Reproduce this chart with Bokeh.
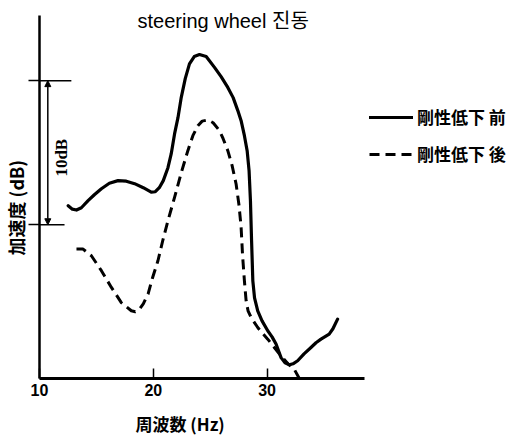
import math
from bokeh.plotting import figure
from bokeh.models import (Range1d, FixedTicker, Label, Legend, LegendItem,
                          Arrow, NormalHead, Title)
from bokeh.embed import file_html
from bokeh.resources import INLINE

# ---- data -------------------------------------------------------------
title_text = "steering wheel 진동"
x_label = "周波数 (Hz)"
y_label = "加速度 (dB)"
series_names = ["剛性低下 前", "剛性低下 後"]

x_ticks = [10, 20, 30]
x_axis_end = 38.6
y_axis_span = (-0.67, 24.51)

# before stiffness drop (solid)
before_hz = [12.52, 12.89, 13.25, 13.68, 14.27, 14.82, 15.44, 16.14, 16.90, 17.63,
             18.36, 19.12, 19.82, 20.18, 20.53, 20.88, 21.29, 21.58, 21.87, 22.17,
             22.46, 22.81, 23.18, 23.60, 24.06, 24.65, 25.38, 25.96, 26.55, 27.02,
             27.43, 27.72, 28.01, 28.25, 28.42, 28.54, 28.64, 28.75, 28.90, 29.18,
             29.56, 30.06, 30.44, 30.79, 31.23, 31.58, 31.96, 32.28, 32.69, 33.25,
             33.86, 34.30, 34.74, 35.46, 35.79, 36.20]
before_db = [11.32, 11.08, 11.02, 11.18, 11.67, 12.08, 12.50, 12.88, 13.06, 13.02,
             12.85, 12.57, 12.26, 12.29, 12.57, 13.06, 13.96, 14.93, 16.30, 17.43,
             18.84, 20.14, 21.16, 21.67, 21.81, 21.67, 20.92, 20.28, 19.53, 18.82,
             17.92, 17.22, 16.18, 15.14, 13.75, 11.67, 8.89, 6.11, 4.93, 4.03,
             3.33, 2.64, 2.22, 1.72, 0.78, 0.42, 0.28, 0.35, 0.56, 1.04,
             1.48, 1.81, 2.06, 2.41, 2.78, 3.45]

# after stiffness drop (dashed)
after_hz = [13.25, 13.83, 14.56, 15.44, 16.32, 17.19, 18.07, 18.42, 18.80, 19.12,
            19.54, 19.91, 20.41, 20.83, 21.29, 21.87, 22.46, 23.04, 23.48, 23.92,
            24.30, 24.80, 25.26, 25.82, 26.14, 26.55, 26.93, 27.28, 27.54, 27.72,
            27.85, 28.01, 28.16, 28.33, 28.60, 29.18, 29.56, 30.06, 30.64, 31.23,
            31.84, 32.37, 32.81]
after_db = [8.31, 8.31, 7.85, 6.81, 5.65, 4.60, 4.03, 3.96, 4.15, 4.51,
            5.19, 6.25, 7.50, 8.89, 10.28, 11.90, 13.61, 15.14, 16.18, 16.87,
            17.19, 17.27, 17.08, 16.53, 15.97, 15.14, 14.10, 12.83, 11.32, 9.81,
            7.85, 6.11, 4.72, 4.03, 3.56, 2.87, 2.50, 2.06, 1.48, 0.90,
            0.35, 0.00, -0.63]

# 10 dB scale bar
scale_db = [10, 20]
scale_bar_x = 10.73
scale_line_end = [12.2, 12.8]
scale_text = "10dB"

CJK = "Noto Sans CJK JP"

# ---- figure -----------------------------------------------------------
p = figure(width=518, height=448, output_backend="svg", toolbar_location=None,
           title_location=None,
           x_range=Range1d(10, 52.1), y_range=Range1d(-0.67, 25.56),
           min_border_left=38, min_border_right=0, min_border_top=0,
           min_border_bottom=70)
p.outline_line_color = None
p.xgrid.visible = False
p.ygrid.visible = False
p.background_fill_color = "white"
p.border_fill_color = "white"

# x axis
xa = p.xaxis[0]
xa.ticker = FixedTicker(ticks=x_ticks)
xa.bounds = (x_ticks[0], x_axis_end)
xa.axis_line_width = 3
xa.axis_line_color = "black"
xa.major_tick_in = 10
xa.major_tick_out = 0
xa.major_tick_line_width = 1.5
xa.minor_tick_line_color = None
xa.major_label_text_font = "Liberation Sans"
xa.major_label_text_font_style = "bold"
xa.major_label_text_font_size = "16px"
xa.major_label_text_color = "black"
xa.major_label_standoff = 5

# y axis
ya = p.yaxis[0]
ya.ticker = FixedTicker(ticks=scale_db)
ya.bounds = y_axis_span
ya.axis_line_width = 2.5
ya.axis_line_color = "black"
ya.major_tick_in = 0
ya.major_tick_out = 11
ya.major_tick_line_width = 1.5
ya.minor_tick_line_color = None
ya.major_label_text_font_size = "0px"
ya.major_label_text_alpha = 0
ya.major_label_standoff = 0

# axis titles
p.add_layout(Title(text=x_label, align="left", offset=96, standoff=21,
                   text_font=CJK, text_font_style="bold", text_font_size="17px",
                   text_color="black"), "below")
p.add_layout(Title(text=y_label, align="left", offset=123, standoff=0,
                   text_font=CJK, text_font_style="bold", text_font_size="18px",
                   text_color="black"), "left")

# scale bar lines and arrow
for yv, xe in zip(scale_db, scale_line_end):
    p.line([x_ticks[0], xe], [yv, yv], line_color="black", line_width=1.5)
p.add_layout(Arrow(start=NormalHead(size=6, fill_color="black", line_width=1),
                   end=NormalHead(size=6, fill_color="black", line_width=1),
                   x_start=scale_bar_x, y_start=scale_db[0],
                   x_end=scale_bar_x, y_end=scale_db[1],
                   line_width=1.5, line_color="black"))
p.add_layout(Label(x=11.93, y=14.65, text=scale_text, angle=math.pi / 2,
                   text_align="center", text_baseline="middle",
                   text_font="Liberation Serif", text_font_style="bold",
                   text_font_size="17px", text_color="black"))

# curves
r1 = p.line(before_hz, before_db, line_color="black", line_width=3.2,
            line_join="round", line_cap="round")
r2 = p.line(after_hz, after_db, line_color="black", line_width=3,
            line_dash="10 6", line_join="round")

# chart title
p.add_layout(Label(x=26.14, y=24.17, text=title_text, text_align="center",
                   text_baseline="middle", text_font="Liberation Sans, Noto Sans CJK KR",
                   text_font_size="20px", text_color="black"))

legend = Legend(items=[LegendItem(label=series_names[0], renderers=[r1]),
                       LegendItem(label=series_names[1], renderers=[r2])],
                location=(330, 212), orientation="vertical",
                glyph_width=44, glyph_height=20, label_height=20,
                label_standoff=4, spacing=12, padding=0, margin=0,
                border_line_color=None, background_fill_alpha=0,
                label_text_font=CJK, label_text_font_style="bold",
                label_text_font_size="17px", label_text_color="black")
p.add_layout(legend)

open("out.html", "w").write(file_html(p, INLINE))
